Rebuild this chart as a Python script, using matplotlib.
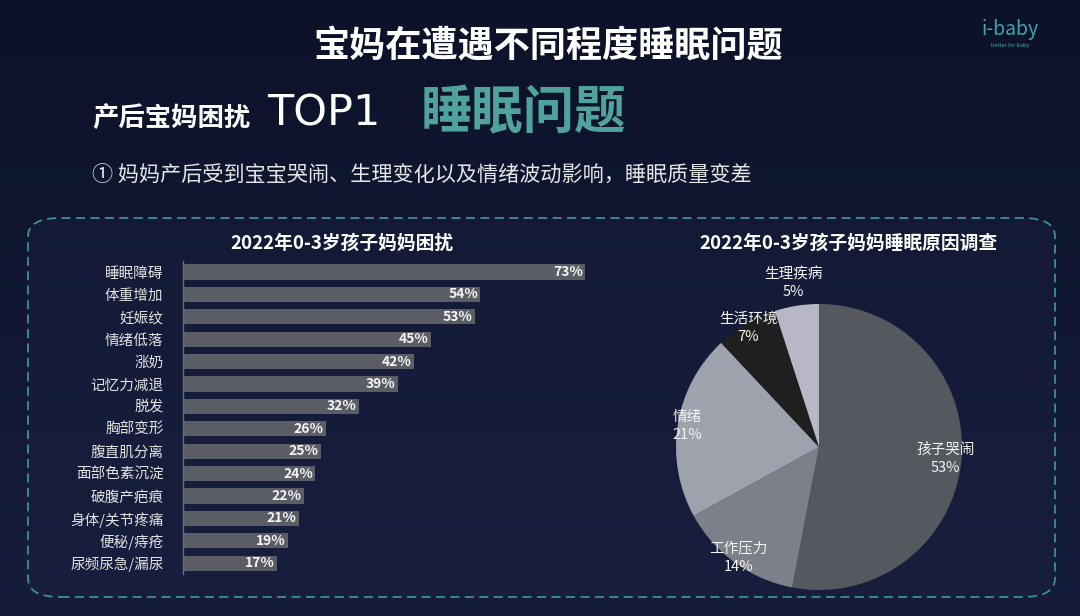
import numpy as np
import matplotlib
matplotlib.use("Agg")
import matplotlib.pyplot as plt
from matplotlib.patches import FancyBboxPatch

plt.rcParams['font.family'] = ['Noto Sans CJK SC', 'DejaVu Sans']

# bar chart data
bar_labels = ['睡眠障碍', '体重增加', '妊娠纹', '情绪低落', '涨奶', '记忆力减退', '脱发',
              '胸部变形', '腹直肌分离', '面部色素沉淀', '破腹产疤痕', '身体/关节疼痛',
              '便秘/痔疮', '尿频尿急/漏尿']
bar_values = [73, 54, 53, 45, 42, 39, 32, 26, 25, 24, 22, 21, 19, 17]

# pie chart data (clockwise from 12 o'clock)
pie_labels = ['孩子哭闹', '工作压力', '情绪', '生活环境', '生理疾病']
pie_values = [53, 14, 21, 7, 5]
pie_colors = ['#55585f', '#7c8189', '#9ea2ac', '#1f1f1f', '#b8b7c6']
pie_label_r = [0.89, 0.96, 0.93, 0.97, 1.16]

W, H = 1080, 616
fig = plt.figure(figsize=(W / 100, H / 100), dpi=100)

# background
bg = fig.add_axes([0, 0, 1, 1], zorder=-10)
grad = np.linspace(0, 1, 256).reshape(-1, 1)
bg.imshow(grad, aspect='auto', extent=[0, 1, 0, 1],
          cmap=matplotlib.colors.LinearSegmentedColormap.from_list('bg', ['#0c1229', '#161d3c']))
bg.set_xlim(0, 1)
bg.set_ylim(0, 1)
bg.axis('off')

# dashed rounded box
bx, by, bw, bh = 28 / W, 1 - 597 / H, (1055 - 28) / W, (597 - 218) / H
bg.add_patch(FancyBboxPatch((bx, by), bw, bh, boxstyle="round,pad=0,rounding_size=0.03",
                            transform=bg.transAxes, facecolor='#1c2343', alpha=0.35,
                            edgecolor='none'))
bg.add_patch(FancyBboxPatch((bx, by), bw, bh, boxstyle="round,pad=0,rounding_size=0.03",
                            transform=bg.transAxes, facecolor='none', edgecolor='#3f8f95',
                            lw=1.3, linestyle=(0, (5, 3))))

# headings
fig.text(548 / W, 1 - 47 / H, '宝妈在遭遇不同程度睡眠问题', color='white', fontsize=26,
         fontweight='bold', ha='center', va='center')
fig.text(92 / W, 1 - 118 / H, '产后宝妈困扰', color='white', fontsize=19,
         fontweight='bold', ha='left', va='center')
fig.text(267 / W, 1 - 113 / H, 'TOP1', color='white', fontsize=31,
         ha='left', va='center', family='DejaVu Sans')
fig.text(421 / W, 1 - 113 / H, '睡眠问题', color='#4fa39c', fontsize=37,
         fontweight='bold', ha='left', va='center')
fig.text(92 / W, 1 - 176 / H, '① 妈妈产后受到宝宝哭闹、生理变化以及情绪波动影响，睡眠质量变差',
         color='#e6e6e6', fontsize=15.2, ha='left', va='center')

# logo
fig.text(1010 / W, 1 - 30 / H, 'i-baby', color='#3fa6a6', fontsize=14,
         ha='center', va='center')
fig.text(1010 / W, 1 - 46 / H, 'better for baby', color='#3fa6a6', fontsize=4,
         ha='center', va='center')

# chart titles
fig.text(342 / W, 1 - 243 / H, '2022年0-3岁孩子妈妈困扰', color='white', fontsize=13.5,
         fontweight='bold', ha='center', va='center')
fig.text(848 / W, 1 - 243 / H, '2022年0-3岁孩子妈妈睡眠原因调查', color='white', fontsize=13.5,
         fontweight='bold', ha='center', va='center')

# bar chart
row_h = 22.4
n = len(bar_values)
ax = fig.add_axes([183 / W, 1 - (272 + row_h * (n - 1) + row_h / 2) / H,
                   402 / W, row_h * n / H])
y = np.arange(n)
ax.barh(y, bar_values, height=0.68, color='#5b5d64')
ax.set_xlim(0, max(bar_values))
ax.set_ylim(n - 0.5, -0.5)
ax.set_facecolor('none')
for s in ['top', 'right', 'bottom']:
    ax.spines[s].set_visible(False)
ax.spines['left'].set_color('#6b6e78')
ax.spines['left'].set_linewidth(1.0)
ax.set_xticks([])
ax.set_yticks(y)
ax.set_yticklabels(bar_labels, color='#e2e2e2', fontsize=10.5)
ax.tick_params(axis='y', length=0, pad=14)
for yi, v in zip(y, bar_values):
    ax.text(v - 0.4, yi, f'{v}%', color='#f4f4f4', fontsize=10, fontweight='bold',
            ha='right', va='center')

# pie chart
cx, cy, r = 819, 447, 143
pax = fig.add_axes([(cx - r) / W, 1 - (cy + r) / H, 2 * r / W, 2 * r / H])
wedges, _ = pax.pie(pie_values, colors=pie_colors, startangle=90, counterclock=False,
                    radius=1, wedgeprops=dict(linewidth=0))
pax.set_xlim(-1, 1)
pax.set_ylim(-1, 1)
pax.set_aspect('equal')
for w, lab, v, rr in zip(wedges, pie_labels, pie_values, pie_label_r):
    ang = np.deg2rad((w.theta1 + w.theta2) / 2)
    pax.text(rr * np.cos(ang), rr * np.sin(ang), f'{lab}\n{v}%', color='#f4f4f4',
             fontsize=10.5, ha='center', va='center', linespacing=1.35, clip_on=False)

fig.savefig('out.png', dpi=100, facecolor=fig.get_facecolor())
